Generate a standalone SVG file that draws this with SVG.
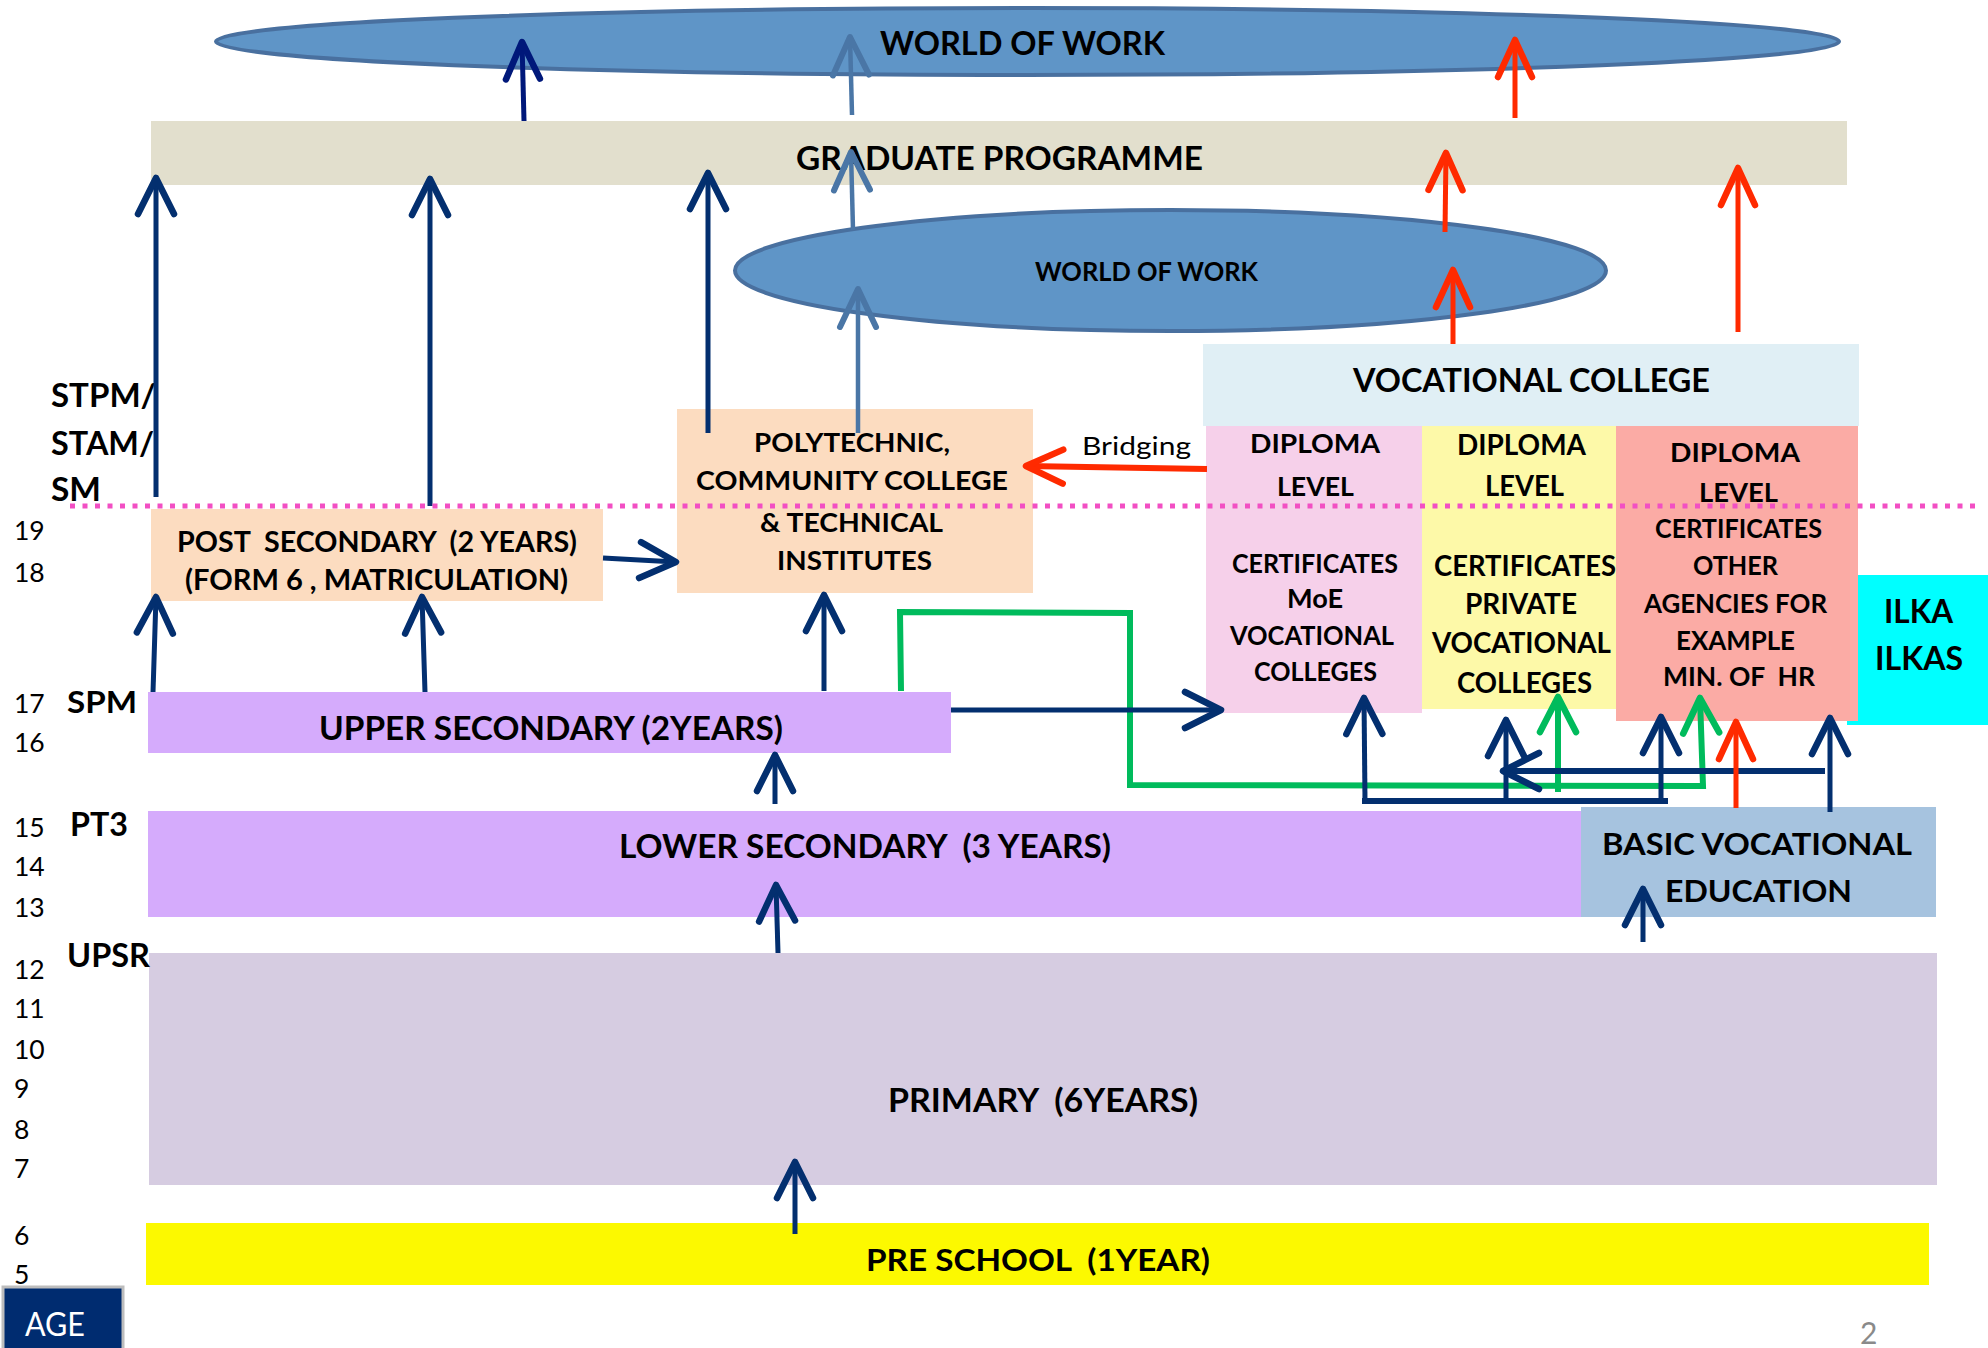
<svg xmlns="http://www.w3.org/2000/svg" width="1988" height="1348" viewBox="0 0 1988 1348">
<style>
text{font-family:Lato,"Open Sans","Liberation Sans",sans-serif;white-space:pre}
.b{font-weight:bold;fill:#000}
.r{font-weight:normal;fill:#000}
.m{text-anchor:middle}
.ell{fill:#5f95c7;stroke:#49709f;stroke-width:4}
.nv{stroke:#032f6f;stroke-width:5;fill:none}
.dn{stroke:#00187a;stroke-width:5;fill:none}
.st{stroke:#4a76a6;stroke-width:4.5;fill:none}
.rd{stroke:#ff2a00;stroke-width:5;fill:none}
.gr{stroke:#00bb5c;stroke-width:6;fill:none}
.age{font-size:26.5px}
</style>
<defs>
<marker id="a-nv" markerUnits="userSpaceOnUse" orient="auto" overflow="visible" refX="0" refY="0" markerWidth="1" markerHeight="1"><path d="M-36,-18 L0,0 L-36,18" fill="none" stroke="#032f6f" stroke-width="6.5" stroke-linecap="round" stroke-linejoin="round"/></marker>
<marker id="a-dn" markerUnits="userSpaceOnUse" orient="auto" overflow="visible" refX="0" refY="0" markerWidth="1" markerHeight="1"><path d="M-37,-17 L0,0 L-37,17" fill="none" stroke="#00187a" stroke-width="6.5" stroke-linecap="round" stroke-linejoin="round"/></marker>
<marker id="a-st" markerUnits="userSpaceOnUse" orient="auto" overflow="visible" refX="0" refY="0" markerWidth="1" markerHeight="1"><path d="M-38,-18 L0,0 L-38,18" fill="none" stroke="#4a76a6" stroke-width="6" stroke-linecap="round" stroke-linejoin="round"/></marker>
<marker id="a-rd" markerUnits="userSpaceOnUse" orient="auto" overflow="visible" refX="0" refY="0" markerWidth="1" markerHeight="1"><path d="M-37,-17 L0,0 L-37,17" fill="none" stroke="#ff2a00" stroke-width="6.5" stroke-linecap="round" stroke-linejoin="round"/></marker>
<marker id="a-gr" markerUnits="userSpaceOnUse" orient="auto" overflow="visible" refX="0" refY="0" markerWidth="1" markerHeight="1"><path d="M-35,-18 L0,0 L-35,18" fill="none" stroke="#00bb5c" stroke-width="6.5" stroke-linecap="round" stroke-linejoin="round"/></marker>
</defs>
<rect x="0" y="0" width="1988" height="1348" fill="#fff"/>

<g id="world-of-work-top">
<ellipse class="ell" cx="1027.5" cy="41.5" rx="811.5" ry="33.5"/>
<text class="b m" x="1022.5" y="55" font-size="32" textLength="285" lengthAdjust="spacingAndGlyphs">WORLD OF WORK</text>
</g>
<g id="graduate-programme">
<rect x="151" y="121" width="1696" height="64" fill="#e2dfcd"/>
<text class="b m" x="999.5" y="170" font-size="32" textLength="407" lengthAdjust="spacingAndGlyphs">GRADUATE PROGRAMME</text>
</g>
<g id="world-of-work-mid">
<ellipse class="ell" cx="1170.5" cy="270.5" rx="435.5" ry="60.5"/>
<text class="b m" x="1146.5" y="281" font-size="26.5" textLength="223" lengthAdjust="spacingAndGlyphs">WORLD OF WORK</text>
</g>
<g id="vocational-college">
<rect x="1203" y="344" width="656" height="82" fill="#e0eff5"/>
<text class="b m" x="1531.5" y="392" font-size="32" textLength="357" lengthAdjust="spacingAndGlyphs">VOCATIONAL COLLEGE</text>
</g>
<g id="moe-vocational">
<rect x="1206" y="426" width="216" height="287" fill="#f6d0ea"/>
<g class="b m" font-size="27">
<text x="1315" y="453" textLength="130" lengthAdjust="spacingAndGlyphs">DIPLOMA</text>
<text x="1315.5" y="496" textLength="77" lengthAdjust="spacingAndGlyphs">LEVEL</text>
<text x="1315" y="573" textLength="166" lengthAdjust="spacingAndGlyphs">CERTIFICATES</text>
<text x="1315" y="608" textLength="56" lengthAdjust="spacingAndGlyphs">MoE</text>
<text x="1312" y="645" textLength="164" lengthAdjust="spacingAndGlyphs">VOCATIONAL</text>
<text x="1315.5" y="681" textLength="123" lengthAdjust="spacingAndGlyphs">COLLEGES</text>
</g>
</g>
<g id="private-vocational">
<rect x="1422" y="426" width="194" height="283" fill="#fdf9a8"/>
<g class="b m" font-size="28.5">
<text x="1521.5" y="455" textLength="129" lengthAdjust="spacingAndGlyphs">DIPLOMA</text>
<text x="1524.5" y="496" textLength="79" lengthAdjust="spacingAndGlyphs">LEVEL</text>
<text x="1525" y="576" textLength="182" lengthAdjust="spacingAndGlyphs">CERTIFICATES</text>
<text x="1521" y="614" textLength="112" lengthAdjust="spacingAndGlyphs">PRIVATE</text>
<text x="1521.5" y="653" textLength="179" lengthAdjust="spacingAndGlyphs">VOCATIONAL</text>
<text x="1524.5" y="693" textLength="135" lengthAdjust="spacingAndGlyphs">COLLEGES</text>
</g>
</g>
<g id="ilka">
<rect x="1847" y="575" width="141" height="150" fill="#00ffff"/>
<text class="b m" x="1918.5" y="623" font-size="32" textLength="69" lengthAdjust="spacingAndGlyphs">ILKA</text>
<text class="b m" x="1919" y="670" font-size="32" textLength="88" lengthAdjust="spacingAndGlyphs">ILKAS</text>
</g>
<g id="other-agencies">
<rect x="1616" y="426" width="242" height="295" fill="#fbaba5"/>
<g class="b m" font-size="27.5">
<text x="1735" y="462" textLength="130" lengthAdjust="spacingAndGlyphs">DIPLOMA</text>
<text x="1738.5" y="502" textLength="79" lengthAdjust="spacingAndGlyphs">LEVEL</text>
<text x="1738.5" y="538" textLength="167" lengthAdjust="spacingAndGlyphs">CERTIFICATES</text>
<text x="1735.5" y="575" textLength="85" lengthAdjust="spacingAndGlyphs">OTHER</text>
<text x="1735.5" y="613" textLength="183" lengthAdjust="spacingAndGlyphs">AGENCIES FOR</text>
<text x="1735.5" y="650" textLength="119" lengthAdjust="spacingAndGlyphs">EXAMPLE</text>
<text x="1739" y="686" textLength="152" lengthAdjust="spacingAndGlyphs" xml:space="preserve">MIN. OF  HR</text>
</g>
</g>
<g id="polytechnic">
<rect x="677" y="409" width="356" height="184" fill="#fcdcc0"/>
<g class="b m" font-size="27">
<text x="852" y="452" textLength="196" lengthAdjust="spacingAndGlyphs">POLYTECHNIC,</text>
<text x="852" y="490" textLength="312" lengthAdjust="spacingAndGlyphs">COMMUNITY COLLEGE</text>
<text x="851.5" y="532" textLength="183" lengthAdjust="spacingAndGlyphs">&amp; TECHNICAL</text>
<text x="854.5" y="570" textLength="155" lengthAdjust="spacingAndGlyphs">INSTITUTES</text>
</g>
</g>
<g id="post-secondary">
<rect x="151" y="509" width="452" height="92" fill="#fcdcc0"/>
<text class="b m" x="377" y="552" font-size="28" textLength="400" lengthAdjust="spacingAndGlyphs" xml:space="preserve">POST  SECONDARY  (2 YEARS)</text>
<text class="b m" x="376.5" y="590" font-size="28" textLength="383" lengthAdjust="spacingAndGlyphs">(FORM 6 , MATRICULATION)</text>
</g>
<g id="upper-secondary">
<rect x="148" y="692" width="803" height="61" fill="#d5abfc"/>
<text class="b m" x="551" y="740" font-size="32" textLength="464" lengthAdjust="spacingAndGlyphs">UPPER SECONDARY (2YEARS)</text>
</g>
<g id="lower-secondary">
<rect x="148" y="811" width="1434" height="106" fill="#d5abfc"/>
<text class="b m" x="865" y="858" font-size="33" textLength="492" lengthAdjust="spacingAndGlyphs" xml:space="preserve">LOWER SECONDARY  (3 YEARS)</text>
</g>
<g id="basic-vocational">
<rect x="1581" y="807" width="355" height="110" fill="#a6c3df"/>
<text class="b m" x="1757" y="855" font-size="31" textLength="310" lengthAdjust="spacingAndGlyphs">BASIC VOCATIONAL</text>
<text class="b m" x="1758.5" y="902" font-size="31" textLength="187" lengthAdjust="spacingAndGlyphs">EDUCATION</text>
</g>
<g id="primary">
<rect x="149" y="953" width="1788" height="232" fill="#d6cce1"/>
<text class="b m" x="1043" y="1112" font-size="33" textLength="310" lengthAdjust="spacingAndGlyphs" xml:space="preserve">PRIMARY  (6YEARS)</text>
</g>
<g id="pre-school">
<rect x="146" y="1223" width="1783" height="62" fill="#fcf900"/>
<text class="b m" x="1038" y="1271" font-size="31" textLength="344" lengthAdjust="spacingAndGlyphs" xml:space="preserve">PRE SCHOOL  (1YEAR)</text>
</g>
<g id="age-box">
<rect x="3" y="1287" width="120" height="64" fill="#002c70" stroke="#bdbdbd" stroke-width="3"/>
<text class="r" x="25" y="1336" font-size="33" style="fill:#fff" textLength="60" lengthAdjust="spacingAndGlyphs">AGE</text>
</g>

<g id="exam-labels" class="b">
<text x="51" y="407" font-size="33" textLength="105" lengthAdjust="spacingAndGlyphs">STPM/</text>
<text x="51" y="455" font-size="33" textLength="103" lengthAdjust="spacingAndGlyphs">STAM/</text>
<text x="51" y="501" font-size="33" textLength="50" lengthAdjust="spacingAndGlyphs">SM</text>
<text x="67" y="713" font-size="30" textLength="70" lengthAdjust="spacingAndGlyphs">SPM</text>
<text x="70" y="836" font-size="32" textLength="58" lengthAdjust="spacingAndGlyphs">PT3</text>
<text x="67" y="967" font-size="32" textLength="83" lengthAdjust="spacingAndGlyphs">UPSR</text>
</g>
<g id="age-labels" class="r age">
<text x="14" y="540">19</text>
<text x="14" y="582">18</text>
<text x="14" y="713">17</text>
<text x="14" y="752">16</text>
<text x="14" y="837">15</text>
<text x="14" y="876">14</text>
<text x="14" y="917">13</text>
<text x="14" y="979">12</text>
<text x="14" y="1018">11</text>
<text x="14" y="1059">10</text>
<text x="14" y="1098">9</text>
<text x="14" y="1139">8</text>
<text x="14" y="1178">7</text>
<text x="14" y="1245">6</text>
<text x="14" y="1284">5</text>
</g>
<text id="page-number" x="1860" y="1344" font-size="30" style="fill:#8a8a8a">2</text>

<g id="connectors">
<g class="gr">
<path d="M901,691 L900,612 L1130,613 L1130,785 L1703,786 L1700,698" marker-end="url(#a-gr)"/>
<path d="M1558,792 L1558,697" marker-end="url(#a-gr)"/>
</g>
<g class="nv">
<path d="M153,692 L156,597" marker-end="url(#a-nv)"/>
<path d="M425,692 L422,597" marker-end="url(#a-nv)"/>
<path d="M824,691 L824,595" marker-end="url(#a-nv)"/>
<path d="M603,558 L676,562" marker-end="url(#a-nv)"/>
<path d="M156,497 L156,178" marker-end="url(#a-nv)"/>
<path d="M430,506 L430,179" marker-end="url(#a-nv)"/>
<path d="M708,433 L708,173" marker-end="url(#a-nv)"/>
<path d="M951,710 L1221,710" marker-end="url(#a-nv)"/>
<path d="M775,804 L775,755" marker-end="url(#a-nv)"/>
<path d="M778,953 L776,885" marker-end="url(#a-nv)"/>
<path d="M795,1234 L795,1162" marker-end="url(#a-nv)"/>
<path d="M1643,942 L1643,889" marker-end="url(#a-nv)"/>
<path d="M1362,801 L1668,801" stroke-width="6"/>
<path d="M1365,801 L1364,698" marker-end="url(#a-nv)"/>
<path d="M1506,801 L1506,720" marker-end="url(#a-nv)"/>
<path d="M1661,801 L1661,717" marker-end="url(#a-nv)"/>
<path d="M1830,812 L1830,718" marker-end="url(#a-nv)"/>
<path d="M1825,771 L1503,771" stroke-width="6" marker-end="url(#a-nv)"/>
</g>
<path class="dn" d="M524,121 L522,42" marker-end="url(#a-dn)"/>
<g class="st">
<path d="M858,433 L858,289" marker-end="url(#a-st)"/>
<path d="M853,230 L851,152" marker-end="url(#a-st)"/>
<path d="M852,115 L850,37" marker-end="url(#a-st)"/>
</g>
<g class="rd">
<path d="M1515,118 L1515,40" marker-end="url(#a-rd)"/>
<path d="M1445,232 L1446,153" marker-end="url(#a-rd)"/>
<path d="M1453,344 L1453,270" marker-end="url(#a-rd)"/>
<path d="M1738,332 L1738,168" marker-end="url(#a-rd)"/>
<path d="M1207,469 L1026,466" stroke-width="6" marker-end="url(#a-rd)"/>
<path d="M1736,808 L1736,722" marker-end="url(#a-rd)"/>
</g>
<text class="r" x="1082" y="455" font-size="25" textLength="109" lengthAdjust="spacingAndGlyphs">Bridging</text>
</g>

<g id="level-divider">
<path d="M70,506 H1975" stroke="#f24fc3" stroke-width="5" stroke-dasharray="5 7.5" fill="none"/>
</g>
</svg>
